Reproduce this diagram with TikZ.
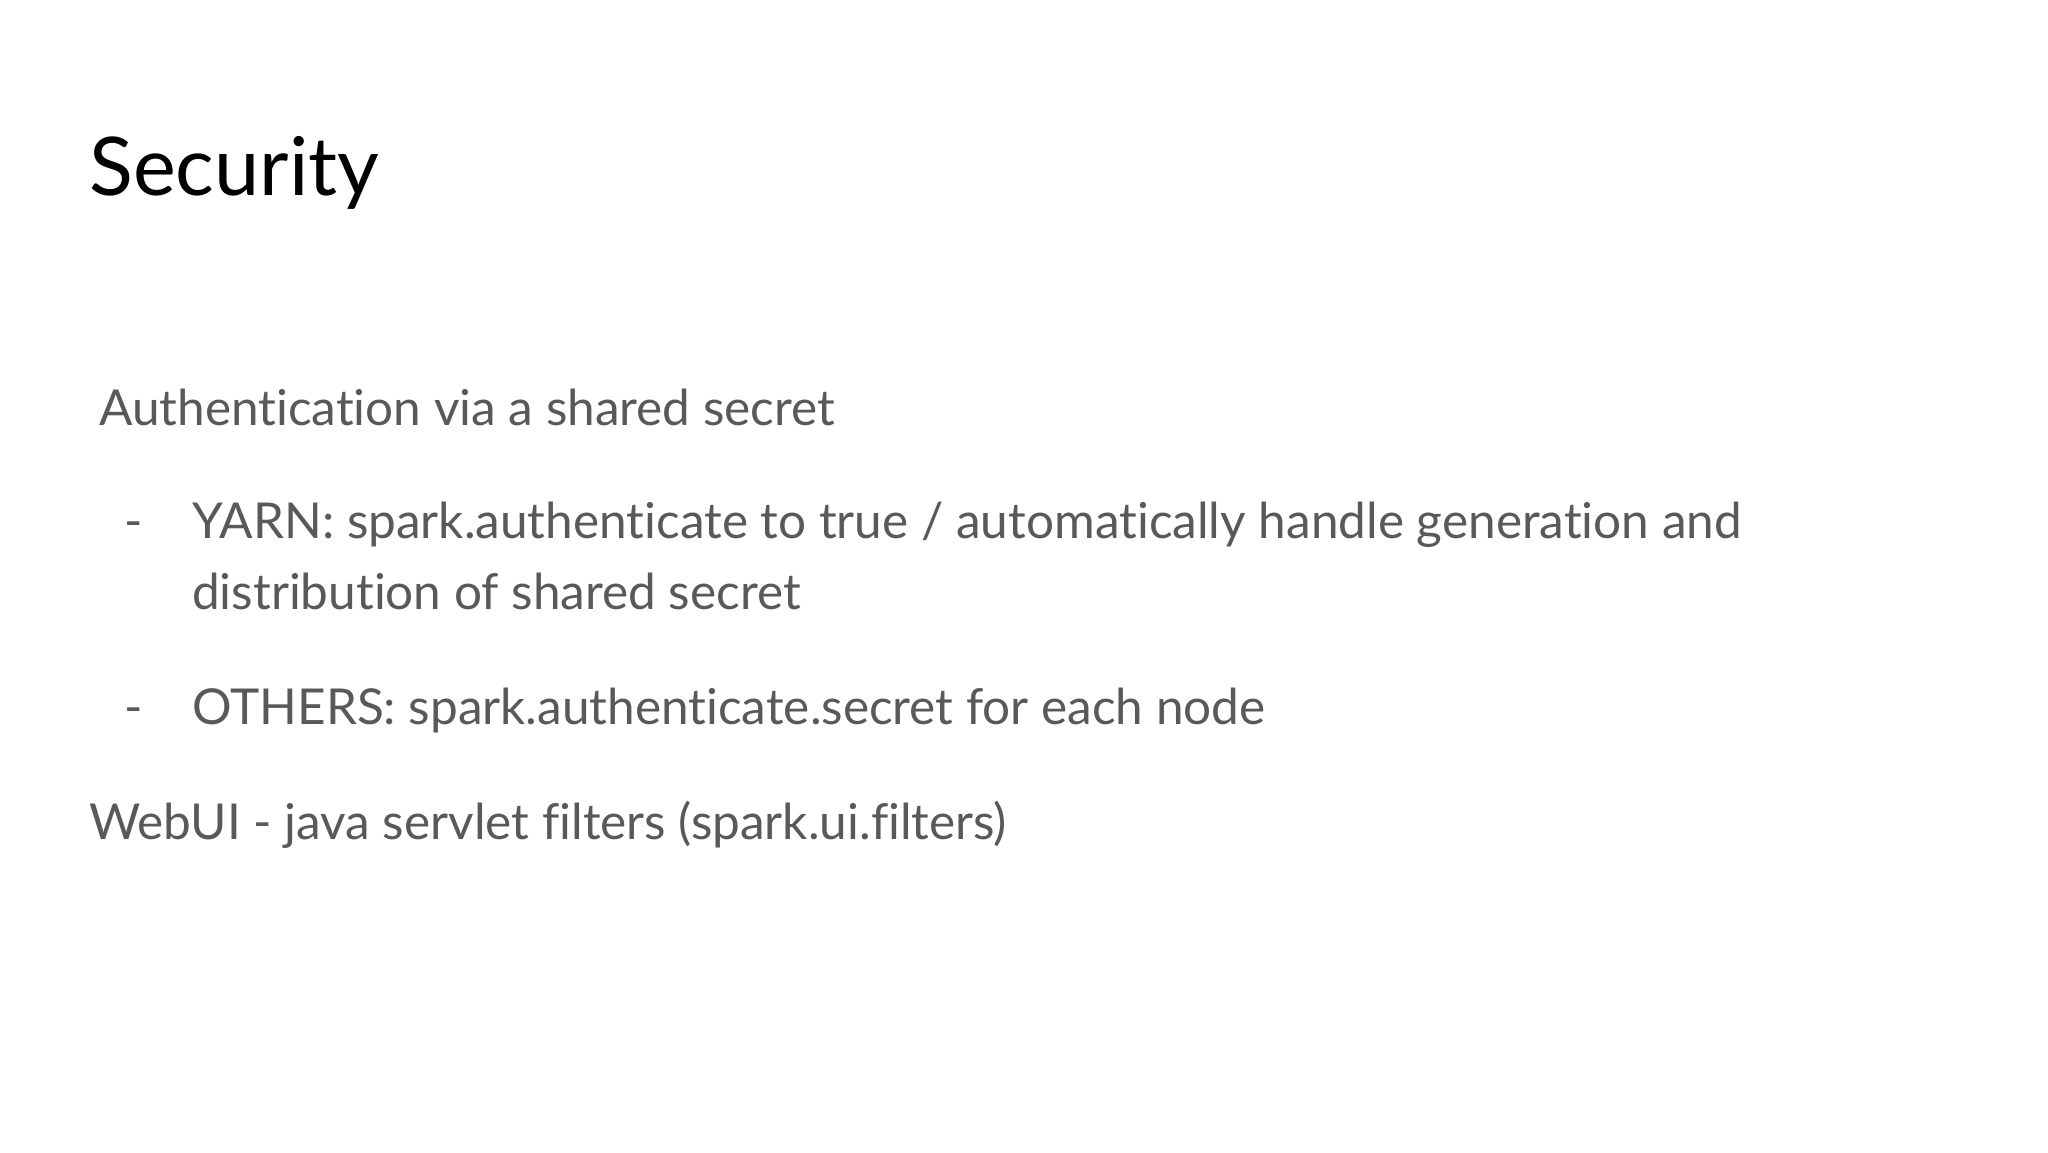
\documentclass[tikz,border=0pt]{standalone}
\usepackage{fontspec}
\setmainfont[Ligatures=NoCommon]{Lato}
\definecolor{txt}{HTML}{595959}
\begin{document}
\begin{tikzpicture}[x=1pt,y=1pt,
  body/.style={anchor=base west,inner sep=0pt,text=txt,font=\fontsize{49.5}{58}\selectfont}]
\useasboundingbox[fill=white] (0,0) rectangle (2048,1152);
\node[anchor=base west,inner sep=0pt,font=\fontsize{81}{96}\selectfont] (title) at (89,1152-196) {Security};
\node[body] (auth) at (99,1152-426) {Authentication via a shared secret};
\node[body] (d1) at (124,1152-539) {-};
\node[body] (y1) at (192,1152-539) {YARN: spark.authenticate to true / automatically handle generation and};
\node[body] (y2) at (192,1152-610) {distribution of shared secret};
\node[body] (d2) at (124,1152-725) {-};
\node[body] (o1) at (192,1152-725) {OTHERS: spark.authenticate.secret for each node};
\node[body] (web) at (89,1152-840) {WebUI - java servlet filters (spark.ui.filters)};
\end{tikzpicture}
\end{document}
